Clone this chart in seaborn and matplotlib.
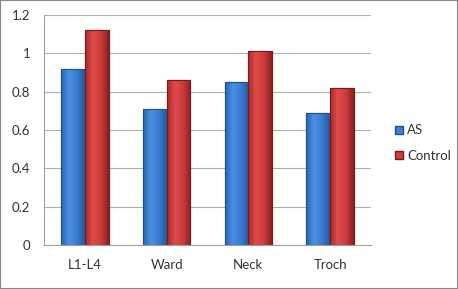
import matplotlib
matplotlib.use("Agg")
import matplotlib.pyplot as plt
import seaborn as sns
import numpy as np
import pandas as pd
from matplotlib.colors import LinearSegmentedColormap
from matplotlib.patches import Rectangle
from matplotlib.lines import Line2D

categories = ["L1-L4", "Ward", "Neck", "Troch"]
as_values = [0.92, 0.71, 0.85, 0.69]
control_values = [1.12, 0.86, 1.01, 0.82]
series_names = ["AS", "Control"]
yticks = [0, 0.2, 0.4, 0.6, 0.8, 1.0, 1.2]
ytick_labels = ["0", "0.2", "0.4", "0.6", "0.8", "1", "1.2"]

df = pd.DataFrame({
    "cat": categories * 2,
    "val": as_values + control_values,
    "series": [series_names[0]] * 4 + [series_names[1]] * 4,
})

sns.set_theme(style="white")
plt.rcParams["font.family"] = ["Lato", "DejaVu Sans"]

fig = plt.figure(figsize=(4.58, 2.89), dpi=100)
ax = fig.add_axes([44/458, 1-245/289, (371-44)/458, (245-15)/289])

base = {"AS": "#3f7fd4", "Control": "#d33c3c"}
sns.barplot(data=df, x="cat", y="val", hue="series", order=categories,
            hue_order=series_names, palette=base, width=0.58, gap=0,
            ax=ax, legend=False, saturation=1)

cmaps = {
    "AS": LinearSegmentedColormap.from_list("b", ["#2c65b0", "#4a90e2", "#3a7bd0", "#2558a0"]),
    "Control": LinearSegmentedColormap.from_list("r", ["#a82a2a", "#e04c4c", "#cf3b3b", "#8e1f1f"]),
}
edges = {"AS": "#1f4f8f", "Control": "#7a1a1a"}
grad = np.linspace(0, 1, 64).reshape(1, -1)
for container, name in zip(ax.containers, series_names):
    for p in container.patches:
        x0, y0 = p.get_x(), p.get_y()
        w, h = p.get_width(), p.get_height()
        p.set_edgecolor(edges[name])
        p.set_linewidth(0.8)
        im = ax.imshow(grad, cmap=cmaps[name], aspect="auto",
                       extent=[x0, x0 + w, y0, y0 + h], zorder=p.get_zorder() + 0.1)
        im.set_clip_path(p)
        outline = Rectangle((x0, y0), w, h, fill=False, edgecolor=edges[name],
                            linewidth=0.8, zorder=p.get_zorder() + 0.2)
        ax.add_patch(outline)

ax.set_xlim(-0.5, 3.5)
ax.set_ylim(0, 1.2)
ax.set_yticks(yticks)
ax.set_yticklabels(ytick_labels)
ax.set_xlabel("")
ax.set_ylabel("")
ax.set_axisbelow(True)
ax.yaxis.grid(True, color="#b0b0b0", linewidth=0.8)
for s in ["top", "right"]:
    ax.spines[s].set_visible(False)
for s in ["left", "bottom"]:
    ax.spines[s].set_color("#a0a0a0")
    ax.spines[s].set_linewidth(0.8)

ax.set_xticks(range(4))
ax.set_xticklabels(categories)
ax.tick_params(axis="x", which="major", length=0, pad=10, labelsize=9.5, colors="#333333")
ax.set_xticks([-0.5, 0.5, 1.5, 2.5, 3.5], minor=True)
ax.tick_params(axis="x", which="minor", length=4, color="#a0a0a0", width=0.8)
ax.tick_params(axis="y", length=4, color="#a0a0a0", width=0.8, labelsize=9.5,
               colors="#333333", pad=6)
for lab in ax.get_yticklabels():
    lab.set_color("#333333")

handles = [Line2D([0], [0], marker="s", linestyle="none", markersize=6,
                  markerfacecolor=base[n], markeredgecolor=edges[n]) for n in series_names]
fig.legend(handles, series_names, loc="center left", bbox_to_anchor=(382/458, 1-143/289),
           frameon=False, fontsize=9.5, handletextpad=0.2, labelspacing=1.0,
           handlelength=0.8, labelcolor="#333333")

fig.patches.append(Rectangle((0, 0), 1, 1, transform=fig.transFigure, fill=False,
                             edgecolor="#888888", linewidth=1.5))
fig.savefig("out.png", dpi=100)
